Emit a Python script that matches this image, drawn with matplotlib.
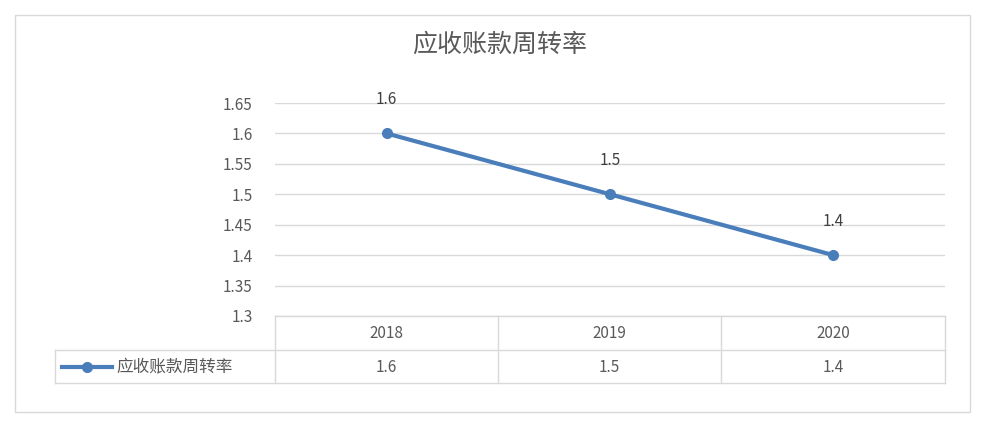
import matplotlib.pyplot as plt
from matplotlib.lines import Line2D

plt.rcParams['font.family'] = ['Noto Sans CJK SC', 'DejaVu Sans']

years = ['2018', '2019', '2020']
values = [1.6, 1.5, 1.4]
series_name = '应收账款周转率'
title = '应收账款周转率'
yticks = [1.3, 1.35, 1.4, 1.45, 1.5, 1.55, 1.6, 1.65]

W, H = 999, 426
color = '#4a7ebb'
grid = '#d9d9d9'
txt = '#595959'

fig = plt.figure(figsize=(W / 100, H / 100), dpi=100)

def fx(px):
    return px / W

def fy(py):
    return 1 - py / H

# outer chart border
fig.add_artist(plt.Rectangle((fx(15), fy(412)), fx(955), (397) / H, transform=fig.transFigure,
                             fill=False, edgecolor='#d9d9d9', lw=1))

ax = fig.add_axes([fx(275), fy(316), fx(670), (316 - 103) / H])
x = list(range(len(years)))
ax.plot(x, values, color=color, lw=3, marker='o', ms=7)
for xi, v in zip(x, values):
    ax.annotate(f'{v:g}', (xi, v), xytext=(0, 18), textcoords='offset points',
                ha='center', va='bottom', fontsize=11, color='#404040')
ax.set_xlim(-0.5, len(years) - 0.5)
ax.set_ylim(1.3, 1.65)
ax.set_yticks(yticks)
ax.set_yticklabels([f'{t:g}' for t in yticks], fontsize=11, color=txt)
ax.grid(axis='y', color=grid, lw=1)
ax.set_xticks([])
ax.tick_params(axis='y', length=0, pad=16)
for s in ax.spines.values():
    s.set_visible(False)
ax.set_axisbelow(True)

fig.text(0.5, fy(45), title, ha='center', va='center', fontsize=18, color=txt)

# data table
cols = [275, 498, 721, 945]
rows = [316, 350, 383]
for c in cols:
    fig.add_artist(Line2D([fx(c), fx(c)], [fy(rows[0]), fy(rows[-1])], color=grid, lw=1))
for r in rows[1:]:
    fig.add_artist(Line2D([fx(55), fx(945)], [fy(r), fy(r)], color=grid, lw=1))
fig.add_artist(Line2D([fx(275), fx(945)], [fy(316), fy(316)], color=grid, lw=1))
fig.add_artist(Line2D([fx(55), fx(55)], [fy(350), fy(383)], color=grid, lw=1))
for i, (yr, v) in enumerate(zip(years, values)):
    cx = (cols[i] + cols[i + 1]) / 2
    fig.text(fx(cx), fy(333), yr, ha='center', va='center', fontsize=11, color=txt)
    fig.text(fx(cx), fy(367), f'{v:g}', ha='center', va='center', fontsize=11, color=txt)
fig.add_artist(Line2D([fx(62), fx(112)], [fy(367), fy(367)], color=color, lw=3))
fig.add_artist(Line2D([fx(87)], [fy(367)], color=color, marker='o', ms=7))
fig.text(fx(116), fy(367), series_name, ha='left', va='center', fontsize=12, color=txt)

fig.savefig('out.png', dpi=100)
